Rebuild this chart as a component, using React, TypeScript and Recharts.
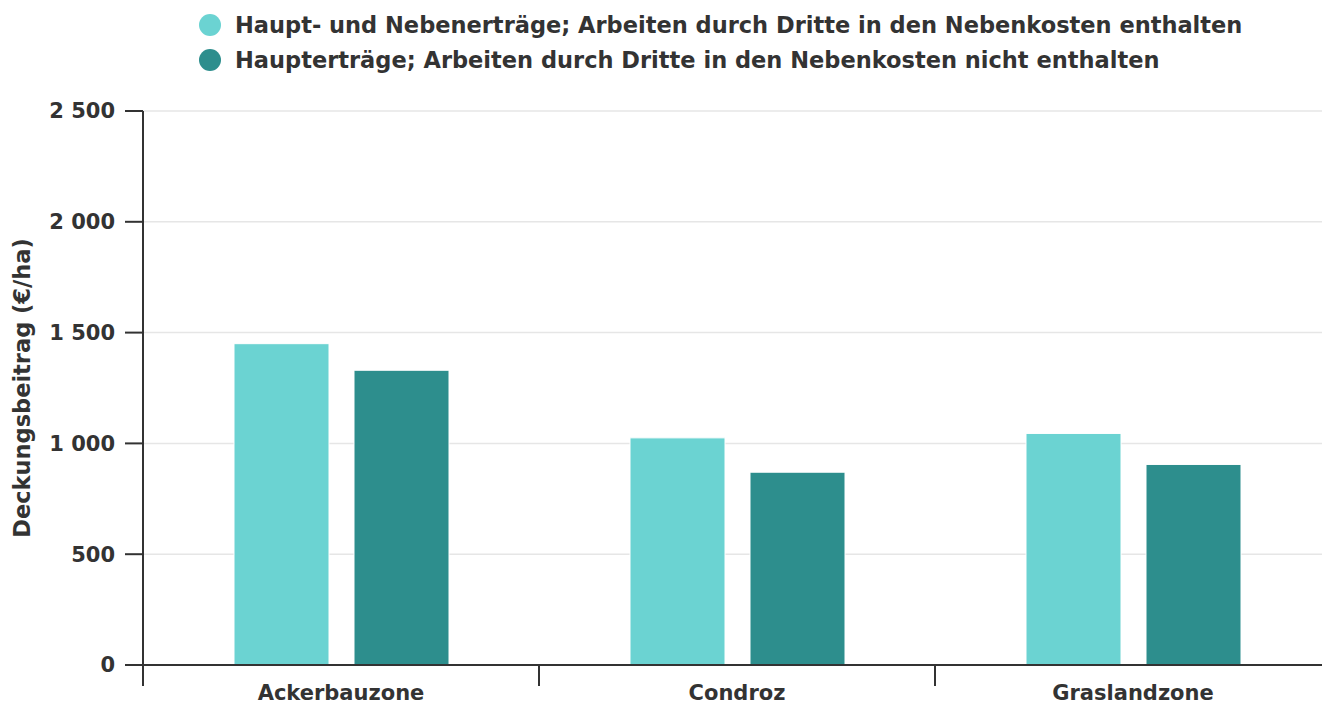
import React from 'react';
import { BarChart, Bar, XAxis, YAxis, CartesianGrid } from 'recharts';

const zones = ['Ackerbauzone', 'Condroz', 'Graslandzone'];
const mitNebenertraegen = [1450, 1025, 1045];
const nurHaupterträge = [1330, 870, 905];
const yTicks = [0, 500, 1000, 1500, 2000, 2500];

const seriesNames = [
  'Haupt- und Nebenerträge; Arbeiten durch Dritte in den Nebenkosten enthalten',
  'Haupterträge; Arbeiten durch Dritte in den Nebenkosten nicht enthalten',
];
const colors = ['#6bd3d2', '#2d8e8d'];

const data = zones.map((zone, i) => ({
  zone,
  a: mitNebenertraegen[i],
  b: nurHaupterträge[i],
}));

const W = 1340;
const H = 706;
const LEFT = 143;
const RIGHT = 9;
const BAND = (W - LEFT - RIGHT) / zones.length;
const FONT = '"DejaVu Sans", sans-serif';
const INK = '#333';

const fmt = (v: number) => String(v).replace(/\B(?=(\d{3})+(?!\d))/g, ' ');

function ZoneTick(props: any) {
  const { x, y, payload, index } = props;
  const left = x - BAND / 2;
  return (
    <g>
      <line x1={left} x2={left} y1={y} y2={y + 21} stroke={INK} strokeWidth={2} />
      {index === zones.length - 1 && (
        <line x1={x + BAND / 2} x2={x + BAND / 2} y1={y} y2={y + 21} stroke={INK} strokeWidth={2} />
      )}
      <text x={x} y={y + 35} textAnchor="middle" fontFamily={FONT} fontWeight="bold" fontSize={21} fill={INK}>
        {payload.value}
      </text>
    </g>
  );
}

function YLabel(props: any) {
  const { viewBox } = props;
  const cy = viewBox.y + viewBox.height / 2;
  return (
    <text
      x={22}
      y={cy}
      transform={`rotate(-90 22 ${cy})`}
      textAnchor="middle"
      dominantBaseline="central"
      fontFamily={FONT}
      fontWeight="bold"
      fontSize={22.5}
      fill={INK}
    >
      Deckungsbeitrag (€/ha)
    </text>
  );
}

export default function App() {
  return (
    <div style={{ position: 'absolute', left: 0, top: 0, width: 1322, height: H, overflow: 'hidden', background: '#fff' }}>
      <div style={{ position: 'absolute', left: 199, top: 7, fontFamily: FONT, fontWeight: 'bold', fontSize: 22.5, color: INK }}>
        {seriesNames.map((name, i) => (
          <div key={name} style={{ display: 'flex', alignItems: 'center', height: 35, whiteSpace: 'nowrap' }}>
            <span style={{ width: 22, height: 22, borderRadius: '50%', background: colors[i], marginRight: 14, display: 'inline-block' }} />
            {name}
          </div>
        ))}
      </div>
      <BarChart
        width={W}
        height={H}
        data={data}
        margin={{ top: 111, right: RIGHT, bottom: 0, left: 0 }}
        barCategoryGap={91}
        barGap={25}
      >
        <CartesianGrid vertical={false} stroke="#e6e6e6" strokeWidth={1.5} />
        <XAxis
          dataKey="zone"
          height={41}
          tickSize={0}
          tickMargin={0}
          tickLine={false}
          axisLine={{ stroke: INK, strokeWidth: 2 }}
          tick={<ZoneTick />}
          interval={0}
        />
        <YAxis
          width={LEFT}
          domain={[0, 2500]}
          ticks={yTicks}
          tickFormatter={fmt}
          tickSize={18}
          tickMargin={10}
          axisLine={{ stroke: INK, strokeWidth: 2 }}
          tickLine={{ stroke: INK, strokeWidth: 2 }}
          tick={{ fontFamily: FONT, fontWeight: 'bold', fontSize: 21, fill: INK }}
          label={<YLabel />}
        />
        <Bar dataKey="a" name={seriesNames[0]} fill={colors[0]} stroke="#fff" strokeWidth={1} isAnimationActive={false} />
        <Bar dataKey="b" name={seriesNames[1]} fill={colors[1]} stroke="#fff" strokeWidth={1} isAnimationActive={false} />
      </BarChart>
    </div>
  );
}
